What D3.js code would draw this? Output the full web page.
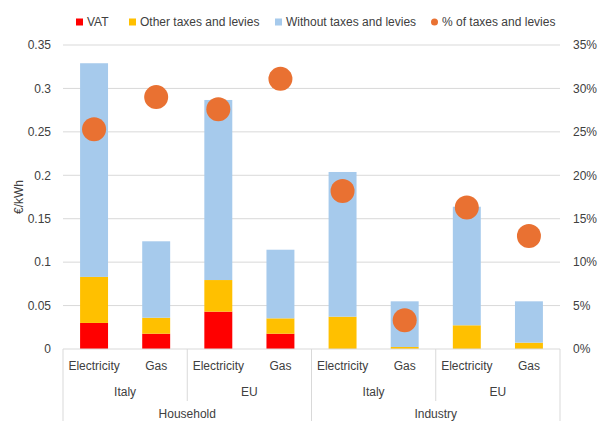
<!DOCTYPE html>
<html>
<head>
<meta charset="utf-8">
<script src="https://cdn.jsdelivr.net/npm/d3@7"></script>
<style>
  html, body { margin: 0; padding: 0; background: #fff; }
  svg { display: block; font-family: "Liberation Sans", Arial, sans-serif; }
</style>
</head>
<body>
<svg id="chart" width="598" height="421"></svg>
<script>
// Energy price components (€/kWh) and share of taxes, by product / area / consumer type
const products = ["Electricity", "Gas", "Electricity", "Gas", "Electricity", "Gas", "Electricity", "Gas"];
const areas = ["Italy", "EU", "Italy", "EU"];
const sectors = ["Household", "Industry"];
const vat = [0.030, 0.0176, 0.043, 0.0176, 0, 0, 0, 0];
const otherTaxes = [0.053, 0.0184, 0.0364, 0.0177, 0.0372, 0.0023, 0.0273, 0.0073];
const withoutTaxes = [0.246, 0.088, 0.2073, 0.079, 0.1666, 0.0526, 0.1365, 0.0476];
const taxShare = [25.3, 29.0, 27.6, 31.1, 18.2, 3.3, 16.3, 13.0];
const leftTicks = [0, 0.05, 0.1, 0.15, 0.2, 0.25, 0.3, 0.35];
const rightTicks = [0, 5, 10, 15, 20, 25, 30, 35];
const seriesNames = ["VAT", "Other taxes and levies", "Without taxes and levies", "% of taxes and levies"];
const colors = ["#FF0000", "#FFC000", "#A6CAEC", "#E97132"];

const svg = d3.select("#chart");
const plotL = 63, plotR = 560, plotT = 45, plotB = 349;

const idx = d3.range(products.length);
const x = d3.scaleBand().domain(idx).range([plotL, plotR]).paddingInner(0.55).paddingOuter(0.275);
const slot = d3.scaleBand().domain(idx).range([plotL, plotR]);
const yL = d3.scaleLinear().domain([0, 0.35]).range([plotB, plotT]);
const yR = d3.scaleLinear().domain([0, 35]).range([plotB, plotT]);

// gridlines
svg.append("g").selectAll("line").data(leftTicks.filter(d => d > 0)).join("line")
  .attr("x1", plotL).attr("x2", plotR)
  .attr("y1", d => yL(d)).attr("y2", d => yL(d))
  .attr("stroke", "#D9D9D9").attr("stroke-width", 1);

// left axis labels
const yAxisL = d3.axisLeft(yL).tickValues(leftTicks).tickSize(0).tickPadding(12)
  .tickFormat(d => String(+d.toFixed(2)));
svg.append("g").attr("transform", `translate(${plotL},0)`).call(yAxisL)
  .call(g => g.select(".domain").remove())
  .selectAll("text").attr("font-size", 12).attr("fill", "#404040").attr("font-family", "inherit");

// right axis labels
const yAxisR = d3.axisRight(yR).tickValues(rightTicks).tickSize(0).tickPadding(13)
  .tickFormat(d => d + "%");
svg.append("g").attr("transform", `translate(${plotR},0)`).call(yAxisR)
  .call(g => g.select(".domain").remove())
  .selectAll("text").attr("font-size", 12).attr("fill", "#404040").attr("font-family", "inherit");

// y title
svg.append("text")
  .attr("transform", `translate(19,${(plotT + plotB) / 2}) rotate(-90)`)
  .attr("text-anchor", "middle").attr("dy", "0.35em")
  .attr("font-size", 12).attr("fill", "#404040").text("€/kWh");

// stacked bars
const stackData = idx.map(i => ({ i, vat: vat[i], other: otherTaxes[i], without: withoutTaxes[i] }));
const stack = d3.stack().keys(["vat", "other", "without"])(stackData);
svg.append("g").selectAll("g").data(stack).join("g")
  .attr("fill", (d, k) => colors[k])
  .selectAll("rect").data(d => d).join("rect")
  .attr("x", d => x(d.data.i)).attr("width", x.bandwidth())
  .attr("y", d => yL(d[1])).attr("height", d => Math.max(0, yL(d[0]) - yL(d[1])));

// category axis line and separators
svg.append("line").attr("x1", plotL).attr("x2", plotR).attr("y1", plotB).attr("y2", plotB)
  .attr("stroke", "#D9D9D9");
const sepTall = [0, 4, 8].map(k => k === 8 ? plotR : slot(k));
const sepShort = [2, 6].map(k => slot(k));
svg.append("g").selectAll("line").data(sepTall).join("line")
  .attr("x1", d => d).attr("x2", d => d).attr("y1", plotB).attr("y2", 421)
  .attr("stroke", "#D9D9D9");
svg.append("g").selectAll("line").data(sepShort).join("line")
  .attr("x1", d => d).attr("x2", d => d).attr("y1", plotB).attr("y2", 401)
  .attr("stroke", "#D9D9D9");

// category labels
svg.append("g").selectAll("text").data(idx).join("text")
  .attr("x", i => slot(i) + slot.bandwidth() / 2).attr("y", 366).attr("dy", "0.35em")
  .attr("text-anchor", "middle").attr("font-size", 12).attr("fill", "#404040")
  .text(i => products[i]);
svg.append("g").selectAll("text").data(areas).join("text")
  .attr("x", (d, j) => slot(j * 2) + slot.bandwidth()).attr("y", 392).attr("dy", "0.35em")
  .attr("text-anchor", "middle").attr("font-size", 12).attr("fill", "#404040")
  .text(d => d);
svg.append("g").selectAll("text").data(sectors).join("text")
  .attr("x", (d, j) => slot(j * 4) + 2 * slot.bandwidth()).attr("y", 413.5).attr("dy", "0.35em")
  .attr("text-anchor", "middle").attr("font-size", 12).attr("fill", "#404040")
  .text(d => d);

// tax share dots
svg.append("g").selectAll("circle").data(idx).join("circle")
  .attr("cx", i => x(i) + x.bandwidth() / 2).attr("cy", i => yR(taxShare[i]))
  .attr("r", 12).attr("fill", colors[3]);

// legend
const legendX = [76, 129, 275, 431];
const lg = svg.append("g");
seriesNames.forEach((name, k) => {
  if (k < 3) {
    lg.append("rect").attr("x", legendX[k]).attr("y", 18.5).attr("width", 7).attr("height", 7).attr("fill", colors[k]);
  } else {
    lg.append("circle").attr("cx", legendX[k] + 3.5).attr("cy", 22).attr("r", 3.5).attr("fill", colors[k]);
  }
  lg.append("text").attr("x", legendX[k] + 11).attr("y", 22).attr("dy", "0.35em")
    .attr("font-size", 12).attr("fill", "#404040").text(name);
});
</script>
</body>
</html>
